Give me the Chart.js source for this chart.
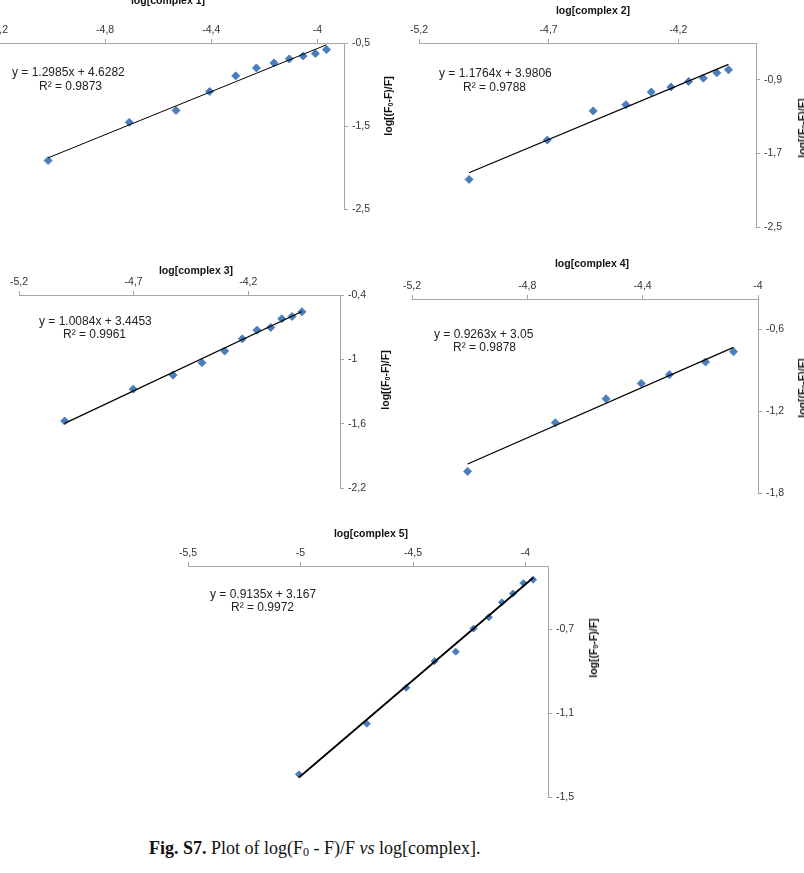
<!DOCTYPE html>
<html>
<head>
<meta charset="utf-8">
<script src="https://cdn.jsdelivr.net/npm/chart.js@4.4.1/dist/chart.umd.min.js"></script>
<style>
  body { margin: 0; width: 804px; height: 873px; position: relative; overflow: hidden; background: #fff;
         font-family: "Liberation Sans", Arial, sans-serif; }
  canvas { position: absolute; }
  .eq { position: absolute; font-size: 12px; color: #222; white-space: nowrap; transform: translateY(-50%); }
  .xt { position: absolute; font-size: 10.5px; font-weight: bold; color: #111; white-space: nowrap;
        transform: translate(-50%, -50%); }
  .yt { position: absolute; font-size: 10.5px; font-weight: bold; color: #111; white-space: nowrap;
        transform: translate(-50%, -50%) rotate(-90deg); }
  .yt sub { font-size: 7px; vertical-align: -1px; }
  .cap { position: absolute; font-family: "Liberation Serif", "Times New Roman", serif;
         font-size: 18px; color: #111; white-space: nowrap; transform: translateY(-50%); }
  .cap sub { font-size: 12px; vertical-align: -2px; }
</style>
</head>
<body>
<script>
// log[complex n] vs log[(F0-F)/F]
const c1X = [-5.015, -4.709, -4.533, -4.406, -4.308, -4.230, -4.164, -4.106, -4.054, -4.008, -3.966];
const c1Y = [-1.916, -1.456, -1.312, -1.084, -0.896, -0.800, -0.740, -0.692, -0.656, -0.628, -0.580];
const c2X = [-5.007, -4.705, -4.528, -4.402, -4.304, -4.228, -4.160, -4.103, -4.051, -4.006];
const c2Y = [-1.983, -1.555, -1.238, -1.170, -1.033, -0.979, -0.918, -0.882, -0.824, -0.792];
const c3X = [-5.001, -4.702, -4.528, -4.402, -4.303, -4.226, -4.162, -4.102, -4.054, -4.009, -3.966];
const c3Y = [-1.575, -1.278, -1.147, -1.031, -0.922, -0.809, -0.728, -0.703, -0.622, -0.600, -0.556];
const c4X = [-5.007, -4.703, -4.527, -4.405, -4.307, -4.182, -4.085];
const c4Y = [-1.642, -1.286, -1.110, -0.998, -0.934, -0.841, -0.766];
const c5X = [-5.007, -4.705, -4.530, -4.404, -4.310, -4.231, -4.163, -4.105, -4.056, -4.009, -3.966];
const c5Y = [-1.392, -1.151, -0.980, -0.853, -0.808, -0.698, -0.644, -0.573, -0.531, -0.482, -0.465];

// trend lines as printed on the chart: [slope, intercept, R2]
const fit1 = [1.2985, 4.6282, '0.9873'];
const fit2 = [1.1764, 3.9806, '0.9788'];
const fit3 = [1.0084, 3.4453, '0.9961'];
const fit4 = [0.9263, 3.05, '0.9878'];
const fit5 = [0.9135, 3.167, '0.9972'];

// axis ticks and ranges
const c1XTicks = [-5.2, -4.8, -4.4, -4];
const c1YTicks = [-2.5, -1.5, -0.5];
const c2XTicks = [-5.2, -4.7, -4.2];
const c2YTicks = [-2.5, -1.7, -0.9];
const c3XTicks = [-5.2, -4.7, -4.2];
const c3YTicks = [-2.2, -1.6, -1, -0.4];
const c4XTicks = [-5.2, -4.8, -4.4, -4];
const c4YTicks = [-1.8, -1.2, -0.6];
const c5XTicks = [-5.5, -5, -4.5, -4];
const c5YTicks = [-1.5, -1.1, -0.7];

const c1Range = [-5.2, -3.9, -2.5, -0.5];
const c2Range = [-5.2, -3.9, -2.5, -0.5];
const c3Range = [-5.2, -3.8, -2.2, -0.4];
const c4Range = [-5.2, -4, -1.8, -0.38];
const c5Range = [-5.5, -3.9, -1.5, -0.4];

// page layout of each panel (plot area l,t,r,b and where the texts sit)
const panels = [
  { n: 1, xs: c1X, ys: c1Y, fit: fit1, xTicks: c1XTicks, yTicks: c1YTicks, range: c1Range,
    area: [-1, 43, 344, 209], xt: [168, 0], yt: [388, 106], eq: [12, 72, 39, 86], r: 4, lw: 1 },
  { n: 2, xs: c2X, ys: c2Y, fit: fit2, xTicks: c2XTicks, yTicks: c2YTicks, range: c2Range,
    area: [419, 43, 756, 227], xt: [593, 10], yt: [802, 128], eq: [439, 73, 463, 87], r: 4, lw: 1.2 },
  { n: 3, xs: c3X, ys: c3Y, fit: fit3, xTicks: c3XTicks, yTicks: c3YTicks, range: c3Range,
    area: [19, 295, 340, 488], xt: [196, 270], yt: [385, 380], eq: [39, 321, 63, 334], r: 4, lw: 1.3 },
  { n: 4, xs: c4X, ys: c4Y, fit: fit4, xTicks: c4XTicks, yTicks: c4YTicks, range: c4Range,
    area: [412, 299, 758, 493], xt: [592, 263], yt: [802, 388], eq: [434, 334, 453, 347], r: 4, lw: 1.2 },
  { n: 5, xs: c5X, ys: c5Y, fit: fit5, xTicks: c5XTicks, yTicks: c5YTicks, range: c5Range,
    area: [188, 566, 548, 797], xt: [371, 533], yt: [593, 648], eq: [210, 594, 231, 607], r: 3.5, lw: 1.8 }
];

const padL = 20, padB = 12, axTop = 40, axRight = 50;
const axisGray = '#a6a6a6';
const tickFont = { family: '"Liberation Sans", Arial, sans-serif', size: 10.5 };
const comma = v => String(Number(v.toFixed(2))).replace('.', ',');

function addText(cls, html, x, y) {
  const d = document.createElement('div');
  d.className = cls;
  d.innerHTML = html;
  d.style.left = x + 'px';
  d.style.top = y + 'px';
  document.body.appendChild(d);
}

function drawPanel(p) {
  const [l, t, r, b] = p.area;
  const w = r - l + padL + axRight, h = b - t + axTop + padB;
  const cv = document.createElement('canvas');
  cv.width = w; cv.height = h;
  cv.style.left = (l - padL) + 'px';
  cv.style.top = (t - axTop) + 'px';
  cv.style.width = w + 'px';
  cv.style.height = h + 'px';
  document.body.appendChild(cv);

  const pts = p.xs.map((x, i) => ({ x: x, y: p.ys[i] }));
  const xa = p.xs[0], xb = p.xs[p.xs.length - 1];
  const trend = [{ x: xa, y: p.fit[0] * xa + p.fit[1] }, { x: xb, y: p.fit[0] * xb + p.fit[1] }];

  new Chart(cv, {
    type: 'scatter',
    data: {
      datasets: [
        { data: trend, showLine: true, borderColor: '#000', borderWidth: p.lw, pointRadius: 0, order: 0, clip: false },
        { data: pts, pointStyle: 'rectRot', pointRadius: p.r, backgroundColor: '#4a7ebb',
          borderColor: '#4a7ebb', borderWidth: 1, order: 1, clip: false }
      ]
    },
    options: {
      responsive: false, animation: false, events: [],
      layout: { padding: { left: padL, bottom: padB, top: 0, right: 0 } },
      plugins: { legend: { display: false }, tooltip: { enabled: false } },
      scales: {
        x: {
          type: 'linear', position: 'top', min: p.range[0], max: p.range[1],
          afterFit: s => { s.height = axTop; },
          afterBuildTicks: s => { s.ticks = p.xTicks.map(v => ({ value: v })); },
          grid: { drawOnChartArea: false, tickLength: 4, color: axisGray },
          border: { color: axisGray },
          ticks: { font: tickFont, color: '#333', padding: 3, maxRotation: 0, callback: comma }
        },
        y: {
          type: 'linear', position: 'right', min: p.range[2], max: p.range[3],
          afterFit: s => { s.width = axRight; },
          afterBuildTicks: s => { s.ticks = p.yTicks.map(v => ({ value: v })); },
          grid: { drawOnChartArea: false, tickLength: 4, color: axisGray },
          border: { color: axisGray },
          ticks: { font: tickFont, color: '#333', padding: 4, callback: comma }
        }
      }
    }
  });

  addText('xt', 'log[complex ' + p.n + ']', p.xt[0], p.xt[1]);
  addText('yt', 'log[(F<sub>0</sub>-F)/F]', p.yt[0], p.yt[1]);
  const sign = p.fit[1] < 0 ? ' - ' : ' + ';
  addText('eq', 'y = ' + p.fit[0] + 'x' + sign + Math.abs(p.fit[1]), p.eq[0], p.eq[1]);
  addText('eq', 'R² = ' + p.fit[2], p.eq[2], p.eq[3]);
}

document.addEventListener('DOMContentLoaded', () => {
  panels.forEach(drawPanel);
  addText('cap', '<b>Fig. S7.</b> Plot of log(F<sub>0</sub> - F)/F <i>vs</i> log[complex].', 149, 849);
});
</script>
</body>
</html>
